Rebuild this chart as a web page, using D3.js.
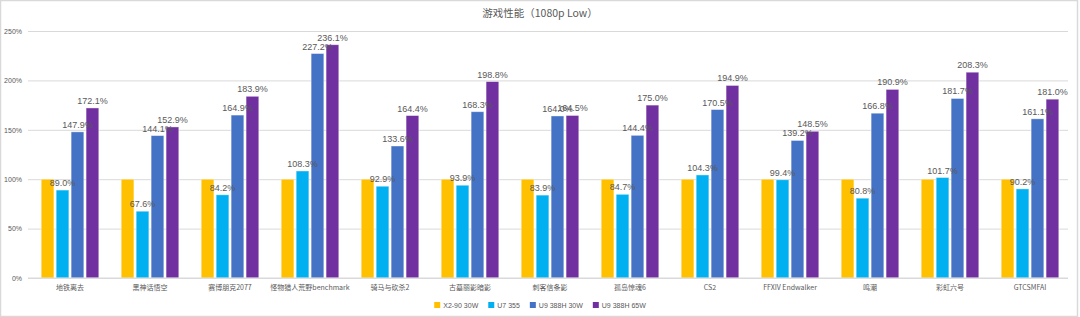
<!DOCTYPE html>
<html>
<head>
<meta charset="utf-8">
<script src="https://cdn.jsdelivr.net/npm/d3@7"></script>
<style>
    body { margin: 0; background: #fff; }
    svg { display: block; font-family: "Noto Sans CJK SC", "Microsoft YaHei", sans-serif; }
</style>
</head>
<body>
<div id="chart"></div>
<script>
// data
var categories = ["地铁离去", "黑神话悟空", "赛博朋克2077", "怪物猎人荒野benchmark", "骑马与砍杀2", "古墓丽影暗影",
    "刺客信条影", "孤岛惊魂6", "CS2", "FFXIV Endwalker", "鸣潮", "彩虹六号", "GTCSMFAI"]
var seriesNames = ["X2-90 30W", "U7 355", "U9 388H 30W", "U9 388H 65W"]
var x290 = [100, 100, 100, 100, 100, 100, 100, 100, 100, 100, 100, 100, 100]
var u7 = [89.0, 67.6, 84.2, 108.3, 92.9, 93.9, 83.9, 84.7, 104.3, 99.4, 80.8, 101.7, 90.2]
var u9_30 = [147.9, 144.1, 164.9, 227.2, 133.6, 168.3, 164.0, 144.4, 170.5, 139.2, 166.8, 181.7, 161.1]
var u9_65 = [172.1, 152.9, 183.9, 236.1, 164.4, 198.8, 164.5, 175.0, 194.9, 148.5, 190.9, 208.3, 181.0]
var yTicks = [0, 50, 100, 150, 200, 250]

var colors = ["#FFC000", "#00B0F0", "#4472C4", "#7030A0"]
var showLabel = [false, true, true, true]

var width = 1080
var height = 317
var margin = ({ top: 31, right: 10, bottom: 39, left: 28 })

var svg = d3.select("#chart").append("svg")
    .attr("width", width)
    .attr("height", height)

// frame
svg.append("rect")
    .attr("x", 0.5).attr("y", 0.5)
    .attr("width", width - 3).attr("height", height - 1)
    .attr("fill", "none")
    .attr("stroke", "#d9d9d9")
    .attr("stroke-width", 1.5)

svg.append("text")
    .attr("x", width / 2)
    .attr("y", 17)
    .attr("text-anchor", "middle")
    .attr("fill", "#595959")
    .style("font-size", "10.5px")
    .text("游戏性能（1080p Low）")

var table = categories.map(function(c, i) {
    return { cat: c, vals: [x290[i], u7[i], u9_30[i], u9_65[i]] }
})

var x0 = d3.scaleBand()
    .domain(categories)
    .range([margin.left + 2, width - margin.right])
    .paddingInner(0.28)
    .paddingOuter(0.14)

var x1 = d3.scaleBand()
    .domain(d3.range(4))
    .range([0, x0.bandwidth()])
    .paddingInner(0.15)

var y = d3.scaleLinear()
    .domain([0, 250])
    .range([height - margin.bottom, margin.top])

// grid + y axis
var yaxis = d3.axisLeft(y)
    .tickValues(yTicks)
    .tickSize(-(width - margin.right - 2 - margin.left))
    .tickPadding(6)
    .tickFormat(function(d) { return d + "%" })

svg.append("g")
    .attr("class", "axisY")
    .attr("transform", "translate(" + margin.left + ",0)")
    .call(yaxis)
    .call(g => g.select(".domain").remove())
    .call(g => g.selectAll("line").attr("stroke", "#d9d9d9"))
    .call(g => g.selectAll("text").attr("fill", "#595959").style("font-size", "7px").style("font-family", "Liberation Sans, sans-serif"))

// bars
var groups = svg.selectAll(".grp")
    .data(table)
    .enter()
    .append("g")
    .attr("class", "grp")
    .attr("transform", d => "translate(" + x0(d.cat) + ",0)")

groups.selectAll("rect")
    .data(d => d.vals)
    .enter()
    .append("rect")
    .attr("x", (d, i) => x1(i))
    .attr("y", d => y(d))
    .attr("width", x1.bandwidth())
    .attr("height", d => y(0) - y(d))
    .attr("fill", (d, i) => colors[i])
    .attr("stroke", "#ffffff")
    .attr("stroke-opacity", 0.5)
    .attr("stroke-width", 0.8)

groups.selectAll(".lbl")
    .data(d => d.vals.map((v, i) => ({ v: v, i: i })).filter(o => showLabel[o.i]))
    .enter()
    .append("text")
    .attr("class", "lbl")
    .attr("x", d => x1(d.i) + x1.bandwidth() / 2)
    .attr("y", d => y(d.v) - 4)
    .attr("text-anchor", "middle")
    .attr("fill", "#595959")
    .style("font-size", "9px")
    .style("font-family", "Liberation Sans, sans-serif")
    .text(d => d.v.toFixed(1) + "%")

// x axis
svg.append("line")
    .attr("x1", margin.left).attr("x2", width - margin.right - 2)
    .attr("y1", y(0)).attr("y2", y(0))
    .attr("stroke", "#d9d9d9")

svg.append("g")
    .selectAll("text")
    .data(categories)
    .enter()
    .append("text")
    .attr("x", d => x0(d) + x0.bandwidth() / 2)
    .attr("y", y(0) + 12)
    .attr("text-anchor", "middle")
    .attr("fill", "#595959")
    .style("font-size", "7px")
    .text(d => d)

// legend, laid out from measured text widths
var legend = svg.append("g")
    .attr("transform", "translate(0,302)")

var items = legend.selectAll("g")
    .data(seriesNames)
    .enter()
    .append("g")

items.append("rect")
    .attr("width", 6).attr("height", 6)
    .attr("fill", (d, i) => colors[i])

items.append("text")
    .attr("x", 9)
    .attr("y", 6.2)
    .attr("fill", "#595959")
    .style("font-size", "7px")
    .style("font-family", "Liberation Sans, sans-serif")
    .text(d => d)

var lx = 0
var offsets = []
items.each(function() {
    offsets.push(lx)
    lx += 9 + d3.select(this).select("text").node().getComputedTextLength() + 10
})
var startX = width / 2 - (lx - 10) / 2
items.attr("transform", (d, i) => "translate(" + (startX + offsets[i]) + ",0)")
</script>
</body>
</html>
